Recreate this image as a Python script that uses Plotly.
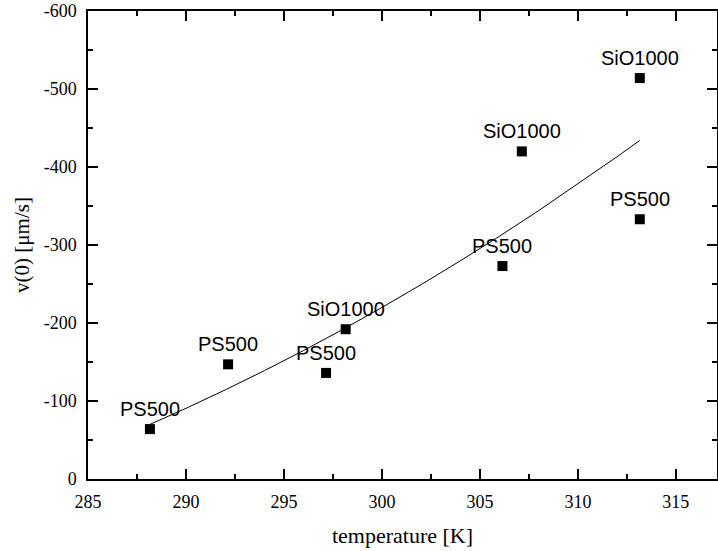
import plotly.graph_objects as go

# measured data points
temps = [288.16, 292.15, 297.15, 298.15, 306.15, 307.14, 313.16, 313.16]
v0 = [-64, -147, -136, -192, -273, -420, -333, -514]
labels = ["PS500", "PS500", "PS500", "SiO1000", "PS500", "SiO1000", "PS500", "SiO1000"]

# fit curve
fit_t = [288.16, 290, 292, 294, 296, 298, 300, 302, 304, 306, 308, 310, 312, 313.16]
fit_v = [-70, -90.6, -114.2, -138.9, -164.7, -191.7, -219.9, -249.2, -279.7, -311.3,
         -344.1, -378.1, -413.2, -434.1]

x_ticks = [285, 290, 295, 300, 305, 310, 315]
y_ticks = [0, -100, -200, -300, -400, -500, -600]
y_ticktext = ["0", "-100", "-200", "-300", "-400", "-500", "-600"]

fig = go.Figure()
fig.add_trace(go.Scatter(x=fit_t, y=fit_v, mode="lines",
                         line=dict(color="black", width=1), showlegend=False,
                         hoverinfo="skip"))
fig.add_trace(go.Scatter(x=temps, y=v0, mode="markers",
                         marker=dict(symbol="square", size=10, color="black",
                                     line=dict(width=0)),
                         showlegend=False))

for t, v, lab in zip(temps, v0, labels):
    fig.add_annotation(x=t, y=v, text=lab, showarrow=False, xanchor="center",
                       yanchor="bottom", yshift=7,
                       font=dict(family="Liberation Sans, Arial", size=20, color="black"))

axis_common = dict(
    showline=True, linecolor="black", linewidth=1.5, mirror="ticks",
    ticks="inside", ticklen=10, tickwidth=1.5, tickcolor="black",
    showgrid=False, zeroline=False, automargin=False,
    tickfont=dict(family="Liberation Serif, Times New Roman", size=18, color="black"),
)

fig.update_xaxes(range=[285, 317.1], tickmode="array", tickvals=x_ticks,
                 ticktext=[str(v) for v in x_ticks],
                 minor=dict(ticks="inside", ticklen=5, tickwidth=1.5, tickcolor="black",
                            dtick=2.5, tick0=285, showgrid=False),
                 title=dict(text="temperature [K]", standoff=16,
                            font=dict(family="Liberation Serif, Times New Roman", size=22,
                                      color="black")),
                 ticklabelstandoff=6,
                 **axis_common)
fig.update_yaxes(range=[0, -600], tickmode="array", tickvals=y_ticks,
                 ticktext=y_ticktext,
                 minor=dict(ticks="inside", ticklen=5, tickwidth=1.5, tickcolor="black",
                            dtick=50, tick0=0, showgrid=False),
                 title=dict(text="v(0) [μm/s]", standoff=8,
                            font=dict(family="Liberation Serif, Times New Roman", size=21,
                                      color="black")),
                 ticklabelstandoff=6,
                 **axis_common)

fig.update_layout(width=718, height=551, plot_bgcolor="white", paper_bgcolor="white",
                  margin=dict(l=88, r=1, t=11, b=72), showlegend=False)

fig.write_html("out.html", config={"displayModeBar": False},
               post_script="document.body.style.margin='0';document.body.style.overflow='hidden';")
